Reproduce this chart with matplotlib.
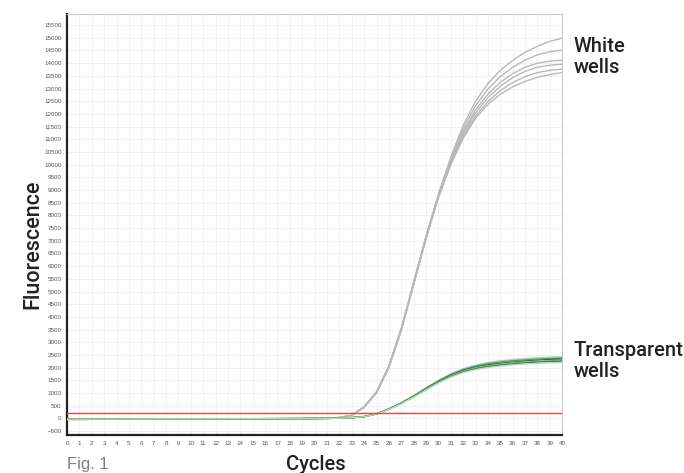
import matplotlib
matplotlib.use("Agg")
import matplotlib.pyplot as plt

plt.rcParams['font.family'] = ['Liberation Sans', 'DejaVu Sans']

cycles = list(range(0, 41))

# shared early baselines (cycles 0-23)
white_base = [-40, -38, -36, -34, -32, -30, -28, -27, -25, -24, -22, -21,
              -20, -18, -16, -14, -12, -10, -8, -5, -2, 8, 35, 120]
green_base = [-30, -29, -28, -26, -25, -24, -22, -21, -20, -18, -17, -16,
              -15, -14, -13, -12, -10, -9, -8, -6, -4, 0, 10, 30]

# tails for cycles 24-40
white_tails = [
    [470, 1060, 2080, 3560, 5380, 7200, 8850, 10300, 11550, 12500, 13200, 13720, 14110, 14430, 14670, 14860, 14990],
    [460, 1040, 2060, 3530, 5350, 7150, 8800, 10220, 11420, 12320, 12980, 13470, 13840, 14120, 14330, 14450, 14515],
    [455, 1030, 2040, 3510, 5330, 7130, 8770, 10150, 11300, 12160, 12780, 13250, 13590, 13840, 14000, 14080, 14120],
    [450, 1020, 2030, 3500, 5310, 7110, 8740, 10100, 11210, 12040, 12640, 13090, 13430, 13680, 13840, 13920, 13960],
    [445, 1010, 2020, 3490, 5300, 7100, 8720, 10050, 11120, 11920, 12490, 12920, 13240, 13470, 13630, 13720, 13765],
    [440, 1000, 2000, 3470, 5280, 7080, 8700, 10000, 11040, 11830, 12380, 12780, 13070, 13280, 13440, 13550, 13630],
]
green_tails = [
    [75, 185, 380, 620, 900, 1210, 1500, 1760, 1960, 2100, 2200, 2270, 2320, 2360, 2390, 2415, 2430],
    [72, 182, 375, 610, 885, 1190, 1475, 1730, 1925, 2065, 2160, 2225, 2275, 2310, 2340, 2360, 2380],
    [70, 180, 370, 600, 870, 1170, 1450, 1700, 1890, 2020, 2110, 2170, 2220, 2260, 2290, 2320, 2340],
    [68, 178, 365, 595, 860, 1155, 1435, 1680, 1865, 1995, 2080, 2140, 2190, 2230, 2260, 2285, 2300],
    [66, 175, 360, 590, 850, 1140, 1415, 1655, 1835, 1960, 2045, 2105, 2150, 2190, 2220, 2245, 2260],
    [64, 172, 355, 580, 840, 1125, 1395, 1630, 1805, 1925, 2005, 2065, 2110, 2145, 2170, 2190, 2200],
]
green_colors = ['#a8d4b0', '#5f9e6b', '#2f4f38', '#8cc697', '#3f7d4b', '#b4dbbb']

threshold = 200

y_ticks = list(range(-500, 16000, 500))
x_ticks = cycles

fig = plt.figure(figsize=(6.84, 4.73), dpi=100)
ax = fig.add_axes([0.098, 0.080, 0.724, 0.890])

for tail in white_tails:
    ax.plot(cycles, white_base + tail, color='#b8b8b8', lw=1.0, zorder=3)
for tail, c in zip(green_tails, green_colors):
    ax.plot(cycles, green_base + tail, color=c, lw=1.0, zorder=4)

ax.axhline(threshold, color='#e04a40', lw=1.0, zorder=5)

ax.set_xlim(0, 40)
ax.set_ylim(-660, 15930)
ax.set_xticks(x_ticks)
ax.set_yticks(y_ticks)
ax.tick_params(axis='both', labelsize=4.5, colors='#555555', length=0, pad=4)
ax.grid(True, color='#efefef', lw=0.6, zorder=0)

for side in ['left', 'bottom']:
    ax.spines[side].set_color('#222222')
    ax.spines[side].set_linewidth(1.6)
for side in ['top', 'right']:
    ax.spines[side].set_color('#cccccc')
    ax.spines[side].set_linewidth(0.8)

lab = dict(family=['Roboto', 'Liberation Sans'], fontweight='medium', color='#222222')
fig.text(0.048, 0.484, 'Fluorescence', rotation=90, ha='center', va='center',
         fontsize=15.5, **lab)
fig.text(0.462, 0.018, 'Cycles', ha='center', va='center', fontsize=14.5, **lab)
fig.text(0.098, 0.018, 'Fig. 1', ha='left', va='center', fontsize=12, color='#808080')
fig.text(0.839, 0.879, 'White\nwells', ha='left', va='center', fontsize=14.5,
         linespacing=1.15, **lab)
fig.text(0.839, 0.237, 'Transparent\nwells', ha='left', va='center', fontsize=14.5,
         linespacing=1.15, **lab)

fig.savefig('out.png', dpi=100)
